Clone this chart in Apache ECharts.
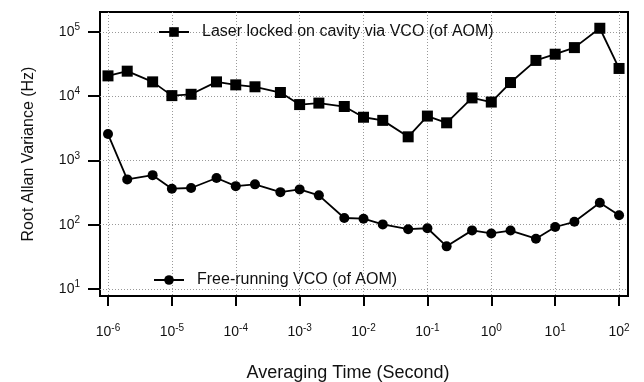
<!DOCTYPE html>
<html>
<head>
<meta charset="utf-8">
<script src="https://cdn.jsdelivr.net/npm/echarts@6/dist/echarts.min.js"></script>
<style>
  html, body { margin: 0; padding: 0; background: #fff; }
  #chart { width: 644px; height: 382px; }
</style>
</head>
<body>
<div id="chart"></div>
<script>
// averaging times (s), 1-2-5 sequence
const taus = [1e-6, 2e-6, 5e-6, 1e-5, 2e-5, 5e-5, 1e-4, 2e-4, 5e-4, 1e-3, 2e-3, 5e-3,
  1e-2, 2e-2, 5e-2, 1e-1, 2e-1, 5e-1, 1, 2, 5, 10, 20, 50, 100]
const lockedValues = [20700, 24500, 16700, 10200, 10700, 16700, 15000, 14000, 11400, 7400, 7800, 6900,
  4700, 4200, 2330, 4900, 3850, 9400, 8100, 16300, 36000, 45000, 57000, 114000, 27000]
const freeValues = [2570, 507, 590, 363, 372, 532, 398, 424, 321, 354, 286, 127,
  124, 101, 85, 88, 46, 81.5, 73, 81, 60.5, 92, 111, 220, 140]
const xTicks = [1e-6, 1e-5, 1e-4, 1e-3, 1e-2, 1e-1, 1, 10, 100]
const yTicks = [10, 100, 1000, 10000, 100000]

const font = 'Liberation Sans, Arial, sans-serif'

const powLabel = (v) => {
  const e = Math.round(Math.log10(v))
  return '{b|10}{s|' + String(e) + '}'
}
const labelRich = {
  b: { fontSize: 14, fontFamily: font, color: '#111' },
  s: { fontSize: 10, fontFamily: font, color: '#111', padding: [0, 0, 9, 0] }
}
const gridLine = { show: true, lineStyle: { color: '#999', type: [1, 2], width: 1 } }

const chart = echarts.init(document.getElementById('chart'))
chart.setOption({
  animation: false,
  backgroundColor: '#fff',
  grid: {
    left: 100, right: 16, top: 12, bottom: 86,
    outerBoundsMode: 'none',
    show: true, borderColor: '#000', borderWidth: 2
  },
  legend: [
    {
      data: ['Laser locked on cavity via VCO (of AOM)'],
      left: 153, top: 19,
      itemWidth: 30, itemHeight: 12,
      textStyle: { fontSize: 16, fontFamily: font, color: '#111', padding: [0, 0, 0, 8] }
    },
    {
      data: ['Free-running VCO (of AOM)'],
      left: 148, top: 267,
      itemWidth: 30, itemHeight: 12,
      textStyle: { fontSize: 16, fontFamily: font, color: '#111', padding: [0, 0, 0, 8] }
    }
  ],
  xAxis: {
    type: 'log',
    logBase: 10,
    min: Math.pow(10, -6.125),
    max: Math.pow(10, 2.14),
    name: 'Averaging Time (Second)',
    nameLocation: 'middle',
    nameGap: 68,
    nameTextStyle: { fontSize: 18, fontFamily: font, color: '#111', padding: [0, 32, 0, 0] },
    axisLine: { show: false },
    axisTick: { customValues: xTicks, length: 10, lineStyle: { color: '#000', width: 2 } },
    axisLabel: { customValues: xTicks, formatter: powLabel, rich: labelRich, margin: 27 },
    splitLine: gridLine
  },
  yAxis: {
    type: 'log',
    logBase: 10,
    min: Math.pow(10, 0.89),
    max: Math.pow(10, 5.31),
    name: 'Root Allan Variance (Hz)',
    nameLocation: 'middle',
    nameGap: 63,
    nameTextStyle: { fontSize: 16, fontFamily: font, color: '#111' },
    axisLine: { show: false },
    axisTick: { customValues: yTicks, length: 12, lineStyle: { color: '#000', width: 2 } },
    axisLabel: { customValues: yTicks, formatter: powLabel, rich: labelRich, margin: 20 },
    splitLine: gridLine
  },
  series: [
    {
      name: 'Laser locked on cavity via VCO (of AOM)',
      type: 'line',
      symbol: 'rect',
      symbolSize: 11,
      itemStyle: { color: '#000' },
      lineStyle: { color: '#000', width: 1.8 },
      data: taus.map((t, i) => [t, lockedValues[i]])
    },
    {
      name: 'Free-running VCO (of AOM)',
      type: 'line',
      symbol: 'circle',
      symbolSize: 10,
      itemStyle: { color: '#000' },
      lineStyle: { color: '#000', width: 1.8 },
      data: taus.map((t, i) => [t, freeValues[i]])
    }
  ]
})
</script>
</body>
</html>
